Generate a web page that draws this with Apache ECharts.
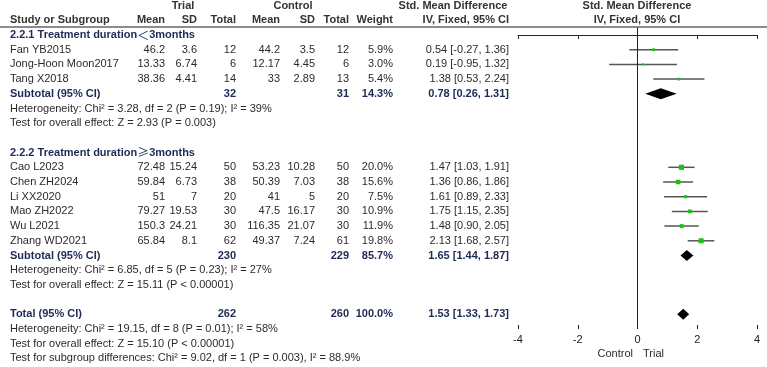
<!DOCTYPE html>
<html>
<head>
<meta charset="utf-8">
<script src="https://cdn.jsdelivr.net/npm/echarts@6/dist/echarts.min.js"></script>
<style>
  html, body { margin: 0; padding: 0; background: #fff; }
  #chart { width: 767px; height: 367px; }
</style>
</head>
<body>
<div id="chart"></div>
<script>
// study data
const studies   = ["Fan YB2015", "Jong-Hoon Moon2017", "Tang X2018",
                   "Cao L2023", "Chen ZH2024", "Li XX2020", "Mao ZH2022", "Wu L2021", "Zhang WD2021"];
const studyRows = [1, 2, 3, 9, 10, 11, 12, 13, 14];
const trialMean = ["46.2", "13.33", "38.36", "72.48", "59.84", "51", "79.27", "150.3", "65.84"];
const trialSD   = ["3.6", "6.74", "4.41", "15.24", "6.73", "7", "19.53", "24.21", "8.1"];
const trialN    = [12, 6, 14, 50, 38, 20, 30, 30, 62];
const ctrlMean  = ["44.2", "12.17", "33", "53.23", "50.39", "41", "47.5", "116.35", "49.37"];
const ctrlSD    = ["3.5", "4.45", "2.89", "10.28", "7.03", "5", "16.17", "21.07", "7.24"];
const ctrlN     = [12, 6, 13, 50, 38, 20, 30, 30, 61];
const weight    = [5.9, 3.0, 5.4, 20.0, 15.6, 7.5, 10.9, 11.9, 19.8];
const smd       = [0.54, 0.19, 1.38, 1.47, 1.36, 1.61, 1.75, 1.48, 2.13];
const ciLow     = [-0.27, -0.95, 0.53, 1.03, 0.86, 0.89, 1.15, 0.90, 1.68];
const ciHigh    = [1.36, 1.32, 2.24, 1.91, 1.86, 2.33, 2.35, 2.05, 2.57];

// pooled estimates (subtotals and total)
const poolLabels = ["Subtotal (95% CI)", "Subtotal (95% CI)", "Total (95% CI)"];
const poolRows   = [4, 15, 19];
const poolTrialN = [32, 230, 262];
const poolCtrlN  = [31, 229, 260];
const poolWeight = ["14.3%", "85.7%", "100.0%"];
const poolEst    = [0.78, 1.65, 1.53];
const poolLow    = [0.26, 1.44, 1.33];
const poolHigh   = [1.31, 1.87, 1.73];

// subgroup titles: text before symbol, symbol, text after
const groupPre  = ["2.2.1 Treatment duration", "2.2.2 Treatment duration"];
const groupSym  = ["＜", "≥"];
const groupPost = ["3months", "3months"];
const groupRows = [0, 8];

const noteRows  = [5, 6, 16, 17, 20, 21, 22];
const noteTexts = [
  "Heterogeneity: Chi² = 3.28, df = 2 (P = 0.19); I² = 39%",
  "Test for overall effect: Z = 2.93 (P = 0.003)",
  "Heterogeneity: Chi² = 6.85, df = 5 (P = 0.23); I² = 27%",
  "Test for overall effect: Z = 15.11 (P < 0.00001)",
  "Heterogeneity: Chi² = 19.15, df = 8 (P = 0.01); I² = 58%",
  "Test for overall effect: Z = 15.10 (P < 0.00001)",
  "Test for subgroup differences: Chi² = 9.02, df = 1 (P = 0.003), I² = 88.9%"
];

const xTicks = [-4, -2, 0, 2, 4];

// layout
const ROW_H = 14.7;
const ROW0 = 35;
const FONT = "'Liberation Sans', Arial, sans-serif";
const CJK = "'Noto Sans CJK SC', sans-serif";
const TXT = "#2b2b2b";
const NAVY = "#1d2a55";
const rowY = (i) => ROW0 + i * ROW_H;

const cols = { name: 10, tMean: 165, tSD: 197, tN: 236, cMean: 280, cSD: 315, cN: 349, w: 393, ci: 509 };

const graphics = [];
function txt(x, y, s, align, bold, color) {
  graphics.push({
    type: "text", x: x, y: y, silent: true,
    style: {
      text: String(s), fill: color || TXT, align: align || "left", verticalAlign: "middle",
      font: (bold ? "bold " : "") + "11px " + FONT
    }
  });
}
const fmtCI = (e, l, h) => e.toFixed(2) + " [" + l.toFixed(2) + ", " + h.toFixed(2) + "]";

// header
txt(183, 6, "Trial", "center", true, "#333");
txt(293, 6, "Control", "center", true, "#333");
txt(453, 6, "Std. Mean Difference", "center", true, "#333");
txt(637, 6, "Std. Mean Difference", "center", true, "#333");
txt(cols.name, 20, "Study or Subgroup", "left", true, "#333");
txt(cols.tMean, 20, "Mean", "right", true, "#333");
txt(cols.tSD, 20, "SD", "right", true, "#333");
txt(cols.tN, 20, "Total", "right", true, "#333");
txt(cols.cMean, 20, "Mean", "right", true, "#333");
txt(cols.cSD, 20, "SD", "right", true, "#333");
txt(cols.cN, 20, "Total", "right", true, "#333");
txt(cols.w, 20, "Weight", "right", true, "#333");
txt(cols.ci, 20, "IV, Fixed, 95% CI", "right", true, "#333");
txt(637, 20, "IV, Fixed, 95% CI", "center", true, "#333");
graphics.push({ type: "line", silent: true, shape: { x1: 0, y1: 27, x2: 767, y2: 27 },
  style: { stroke: "#666", lineWidth: 1.5 } });

// subgroup titles, the comparison sign drawn with the CJK font
groupRows.forEach((r, k) => {
  graphics.push({
    type: "text", x: cols.name, y: rowY(r), silent: true,
    style: {
      text: groupPre[k] + "{s|" + groupSym[k] + "}" + groupPost[k],
      fill: NAVY, verticalAlign: "middle", font: "bold 11px " + FONT,
      rich: { s: { fontFamily: CJK, fontSize: 12, fontWeight: "normal", fill: NAVY } }
    }
  });
});

studies.forEach((s, k) => {
  const y = rowY(studyRows[k]);
  txt(cols.name, y, s);
  txt(cols.tMean, y, trialMean[k], "right");
  txt(cols.tSD, y, trialSD[k], "right");
  txt(cols.tN, y, trialN[k], "right");
  txt(cols.cMean, y, ctrlMean[k], "right");
  txt(cols.cSD, y, ctrlSD[k], "right");
  txt(cols.cN, y, ctrlN[k], "right");
  txt(cols.w, y, weight[k].toFixed(1) + "%", "right");
  txt(cols.ci, y, fmtCI(smd[k], ciLow[k], ciHigh[k]), "right");
});

poolLabels.forEach((s, k) => {
  const y = rowY(poolRows[k]);
  txt(cols.name, y, s, "left", true, NAVY);
  txt(cols.tN, y, poolTrialN[k], "right", true, NAVY);
  txt(cols.cN, y, poolCtrlN[k], "right", true, NAVY);
  txt(cols.w, y, poolWeight[k], "right", true, NAVY);
  txt(cols.ci, y, fmtCI(poolEst[k], poolLow[k], poolHigh[k]), "right", true, NAVY);
});

noteTexts.forEach((s, k) => txt(cols.name, rowY(noteRows[k]), s));

txt(633, 354, "Control", "right");
txt(643, 354, "Trial", "left");

const studyData = studies.map((s, k) => [smd[k], studyRows[k], ciLow[k], ciHigh[k], weight[k]]);
const poolData = poolEst.map((e, k) => [e, poolRows[k], poolLow[k], poolHigh[k]]);

const chart = echarts.init(document.getElementById("chart"));
chart.setOption({
  animation: false,
  grid: { left: 518, right: 10, top: ROW0 - 0.5 * ROW_H, height: 20.5 * ROW_H },
  xAxis: [
    {
      type: "value", min: xTicks[0], max: xTicks[xTicks.length - 1], interval: 2,
      position: "bottom",
      axisLine: { lineStyle: { color: "#222", width: 1 } },
      axisTick: { show: true, length: 4, lineStyle: { color: "#222" } },
      axisLabel: { color: "#222", fontSize: 11, fontFamily: FONT, margin: 5 },
      splitLine: { show: false }
    },
    {
      type: "value", min: xTicks[0], max: xTicks[xTicks.length - 1], interval: 2,
      position: "bottom",
      axisLine: { show: false },
      axisTick: { show: true, inside: true, length: 4, lineStyle: { color: "#222" } },
      axisLabel: { show: false },
      splitLine: { show: false }
    }
  ],
  yAxis: { type: "value", min: -0.5, max: 20, inverse: true, show: false },
  series: [
    {
      type: "custom",
      data: studyData,
      renderItem: function (params, api) {
        const row = api.value(1);
        const p0 = api.coord([api.value(2), row]);
        const p1 = api.coord([api.value(3), row]);
        const c = api.coord([api.value(0), row]);
        const sz = 1.15 * Math.sqrt(api.value(4));
        return {
          type: "group",
          children: [
            { type: "line", shape: { x1: p0[0], y1: p0[1], x2: p1[0], y2: p1[1] },
              style: { stroke: "#555", lineWidth: 1.5 } },
            { type: "rect", shape: { x: c[0] - sz / 2, y: c[1] - sz / 2, width: sz, height: sz },
              style: { fill: "#13c613" } }
          ]
        };
      },
      markLine: {
        silent: true, symbol: "none", label: { show: false },
        lineStyle: { color: "#222", width: 1, type: "solid" },
        data: [{ xAxis: 0 }]
      }
    },
    {
      type: "custom",
      data: poolData,
      renderItem: function (params, api) {
        const row = api.value(1);
        const l = api.coord([api.value(2), row]);
        const h = api.coord([api.value(3), row]);
        const c = api.coord([api.value(0), row]);
        const half = 5.5;
        return {
          type: "polygon",
          shape: { points: [[l[0], c[1]], [c[0], c[1] - half], [h[0], c[1]], [c[0], c[1] + half]] },
          style: { fill: "#000" }
        };
      }
    }
  ],
  graphic: graphics
});
</script>
</body>
</html>
